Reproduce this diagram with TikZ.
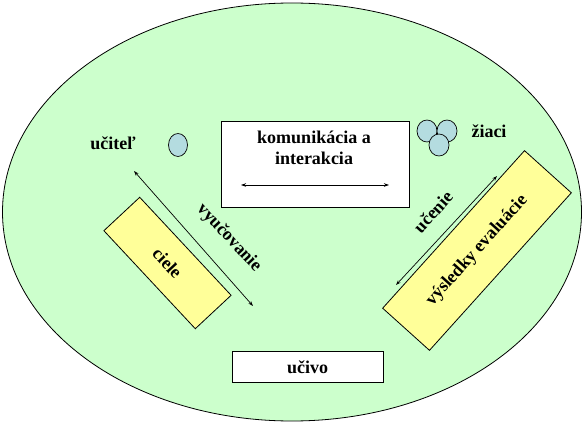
\documentclass[tikz,border=0pt]{standalone}
\usepackage{fontspec}
\setmainfont{Liberation Serif}
\usetikzlibrary{arrows.meta}
\definecolor{bgGreen}{HTML}{CCFFCC}
\definecolor{boxYellow}{HTML}{FFFF99}
\definecolor{dotBlue}{HTML}{B4DCE0}
\begin{document}
\begin{tikzpicture}[x=1pt,y=-1pt,
  lbl/.style={font=\fontsize{18}{20}\selectfont\bfseries, inner sep=0pt},
  whitebox/.style={draw=black, fill=white, line width=0.8pt},
  yellowbox/.style={draw=black, fill=boxYellow, line width=0.8pt, lbl},
  dot/.style={draw=black, fill=dotBlue, line width=0.7pt},
  dbl/.style={{Stealth[length=5pt,width=3.5pt]}-{Stealth[length=5pt,width=3.5pt]}, line width=0.7pt}
]
\useasboundingbox (0,0) rectangle (582,425);
\fill[white] (0,0) rectangle (582,425);
\draw[fill=bgGreen, line width=0.8pt] (292,212) ellipse [x radius=289.5, y radius=209];

% communication box
\node[whitebox, minimum width=188, minimum height=86] (kom) at (315,164) {};
\node[lbl, align=center] (komt) at (314,148) {komunikácia a\\[1pt]interakcia};
\coordinate (kl) at (241,185);
\coordinate (kr) at (389,185);
\draw[dbl] (kl) -- (kr);

% učivo
\node[whitebox, minimum width=151, minimum height=31, lbl] (uc) at (307.5,367) {učivo};

% teacher
\node[lbl] (ucitel) at (113,143) {učiteľ};
\draw[dot] (178,145) ellipse [x radius=9.5, y radius=11.5];

% pupils
\draw[dot] (427,131) ellipse [x radius=10, y radius=11];
\draw[dot] (447,131) ellipse [x radius=10, y radius=11];
\draw[dot] (439,145) ellipse [x radius=10, y radius=11];
\node[lbl] (ziaci) at (489,131) {žiaci};

% ciele
\node[yellowbox, rotate=-47, minimum width=134, minimum height=49] (ciele) at (167.5,263) {ciele};
\coordinate (va) at (134,171);
\coordinate (vb) at (253,306);
\draw[dbl] (va) -- (vb);
\node[lbl, rotate=-47] (vyuc) at (229,238) {vyučovanie};

% výsledky evaluácie
\node[yellowbox, rotate=48, minimum width=212, minimum height=63] (vys) at (477,250.5) {výsledky evaluácie};
\coordinate (ua) at (396,285);
\coordinate (ub) at (497,176);
\draw[dbl] (ua) -- (ub);
\node[lbl, rotate=48] (ucen) at (433,212) {učenie};
\end{tikzpicture}
\end{document}
